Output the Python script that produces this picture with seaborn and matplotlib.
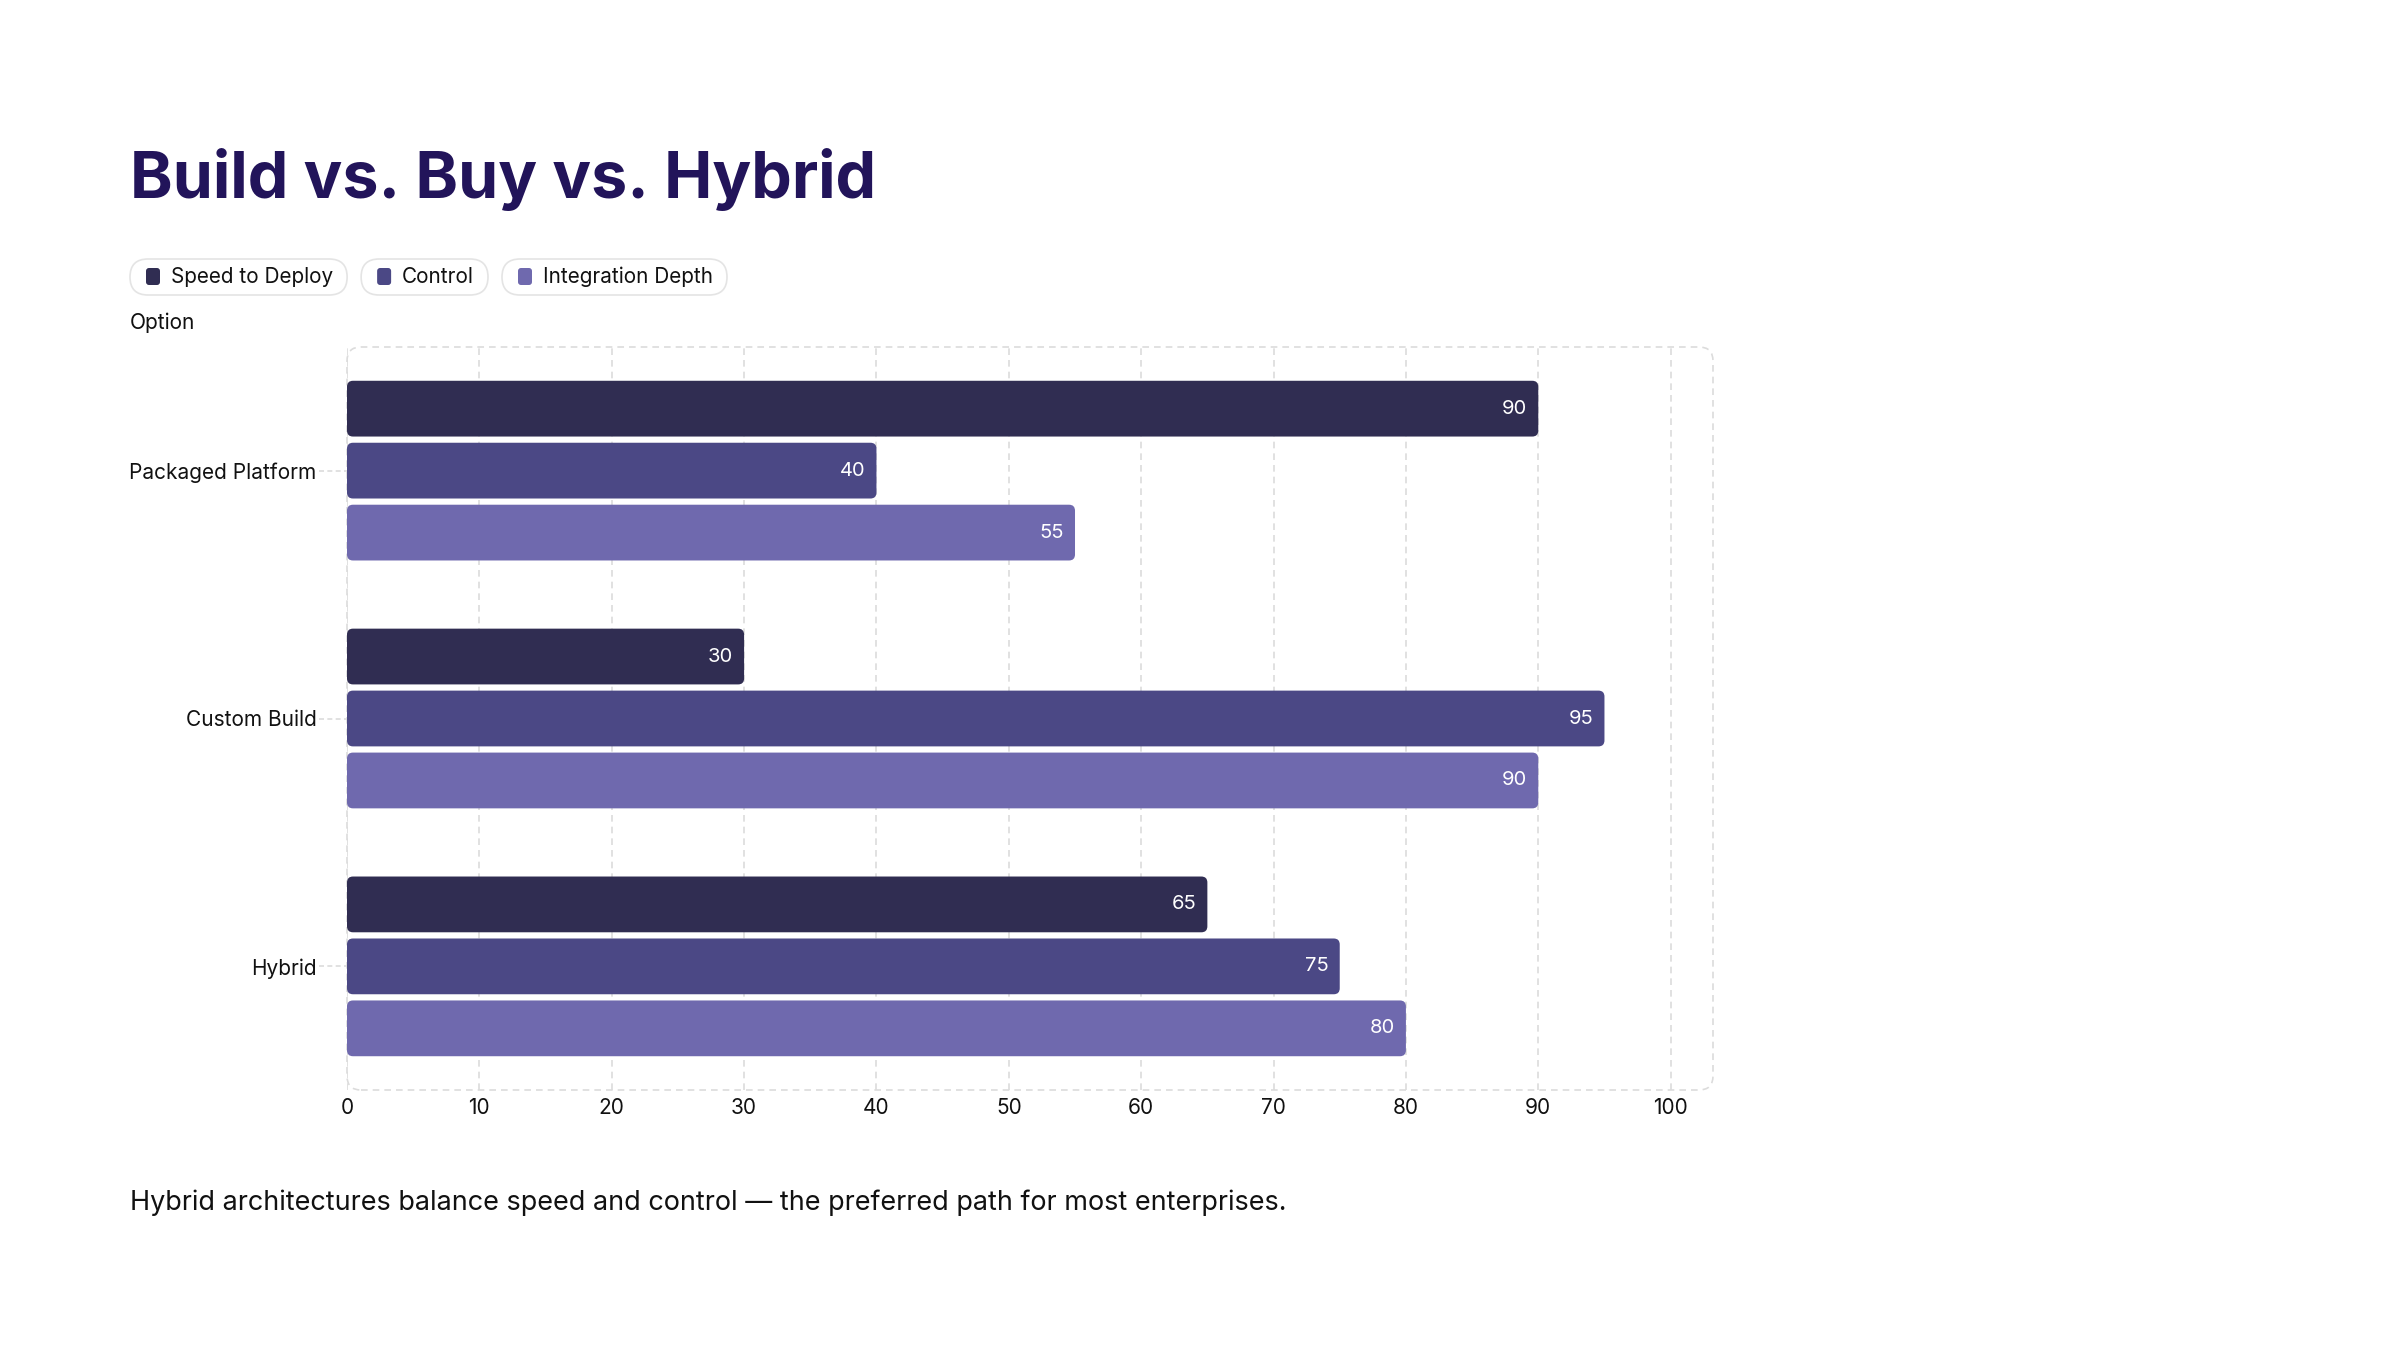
import matplotlib
matplotlib.use("Agg")
import matplotlib.pyplot as plt
import matplotlib.transforms as mtransforms
from matplotlib.patches import FancyBboxPatch
import seaborn as sns
import pandas as pd

# ---- data ----
options = ["Packaged Platform", "Custom Build", "Hybrid"]
metrics = ["Speed to Deploy", "Control", "Integration Depth"]
speed_to_deploy = [90, 30, 65]
control = [40, 95, 75]
integration_depth = [55, 90, 80]
palette = ["#302D52", "#4B4885", "#6F69AE"]

title = "Build vs. Buy vs. Hybrid"
caption = "Hybrid architectures balance speed and control \u2014 the preferred path for most enterprises."

df = pd.DataFrame({
    "Option": options * 3,
    "Metric": [m for m in metrics for _ in options],
    "Score": speed_to_deploy + control + integration_depth,
})

# ---- style ----
sns.set_theme(style="white")
plt.rcParams["font.family"] = ["Inter", "DejaVu Sans"]
TEXT = "#111111"
GRID = "#dcdcdc"
W, H = 2400, 1350

fig = plt.figure(figsize=(24, 13.5), dpi=100)
fig.patch.set_facecolor("white")
ax = fig.add_axes([347 / W, 1 - 1090 / H, (1713 - 347) / W, (1090 - 347) / H])

sns.barplot(data=df, y="Option", x="Score", hue="Metric", palette=palette,
            orient="h", width=0.75, gap=0.1, ax=ax, legend=False,
            saturation=1, errorbar=None)

ax.set_xlim(0, 103.2)
ax.set_xticks(range(0, 101, 10))
ax.set_xlabel("")
ax.set_ylabel("")
for s in ax.spines.values():
    s.set_visible(False)
ax.set_axisbelow(True)
ax.xaxis.grid(True, linestyle=(0, (4, 3)), color=GRID, linewidth=1.2)
ax.yaxis.grid(False)
ax.tick_params(axis="x", length=0, pad=6, labelsize=15, labelcolor=TEXT)
ax.tick_params(axis="y", length=0, pad=22, labelsize=15, labelcolor=TEXT)

# bar value labels
for cont in ax.containers:
    labels = ax.bar_label(cont, fmt="%g", padding=-8, color="white", fontsize=14.5)
    for t in labels:
        t.set_ha("right")

# rounded bars
fig.canvas.draw()
p0 = ax.transData.transform((0, 0))
p1 = ax.transData.transform((1, 1))
px_x = abs(p1[0] - p0[0])
px_y = abs(p1[1] - p0[1])
radius_px = 6
for bar in list(ax.patches):
    x, y = bar.get_x(), bar.get_y()
    w, h = bar.get_width(), bar.get_height()
    rb = FancyBboxPatch((x, y), w, h,
                        boxstyle=f"round,pad=0,rounding_size={radius_px / px_x}",
                        mutation_aspect=px_x / px_y,
                        facecolor=bar.get_facecolor(), edgecolor="none", zorder=2)
    ax.add_patch(rb)
    bar.set_visible(False)

# dashed rounded frame
bb = ax.get_window_extent()
frame = FancyBboxPatch((0, 0), 1, 1,
                       boxstyle=f"round,pad=0,rounding_size={14 / bb.width}",
                       mutation_aspect=bb.width / bb.height,
                       transform=ax.transAxes, facecolor="none", edgecolor=GRID,
                       linestyle=(0, (4, 3)), linewidth=1.2, clip_on=False, zorder=1)
ax.add_patch(frame)

# dashed tick stubs for categories
trans = mtransforms.blended_transform_factory(ax.transAxes, ax.transData)
for i in range(len(options)):
    ax.plot([-28 / bb.width, 0], [i, i], transform=trans, color=GRID,
            linestyle=(0, (3, 2)), linewidth=1.2, clip_on=False)

# ---- titles and text ----
fig.text(130 / W, 1 - 198 / H, title, fontsize=46.5, fontweight="bold",
         color="#22145A", va="baseline", ha="left")
fig.text(130 / W, 1 - 323 / H, "Option", fontsize=15, color=TEXT,
         va="center", ha="left")
fig.text(130 / W, 1 - 1203 / H, caption, fontsize=19.45, color=TEXT,
         va="center", ha="left")

# ---- legend pills ----
ident = mtransforms.IdentityTransform()
renderer = fig.canvas.get_renderer()
x = 130
yc = H - 277
pill_h = 36
for name, color in zip(metrics, palette):
    t = fig.text(x + 41, yc, name, fontsize=14.9, color=TEXT, va="center",
                 ha="left", transform=ident)
    ext = t.get_window_extent(renderer)
    right = ext.x1 + 14
    pill = FancyBboxPatch((x, yc - pill_h / 2), right - x, pill_h,
                          boxstyle=f"round,pad=0,rounding_size={pill_h / 2}",
                          transform=ident, facecolor="white", edgecolor="#e4e4e4",
                          linewidth=1.2, zorder=0)
    fig.add_artist(pill)
    marker = FancyBboxPatch((x + 16, yc - 8), 14, 17,
                            boxstyle="round,pad=0,rounding_size=3",
                            transform=ident, facecolor=color, edgecolor="none")
    fig.add_artist(marker)
    x = right + 14

fig.savefig("out.png", dpi=100, facecolor="white")
